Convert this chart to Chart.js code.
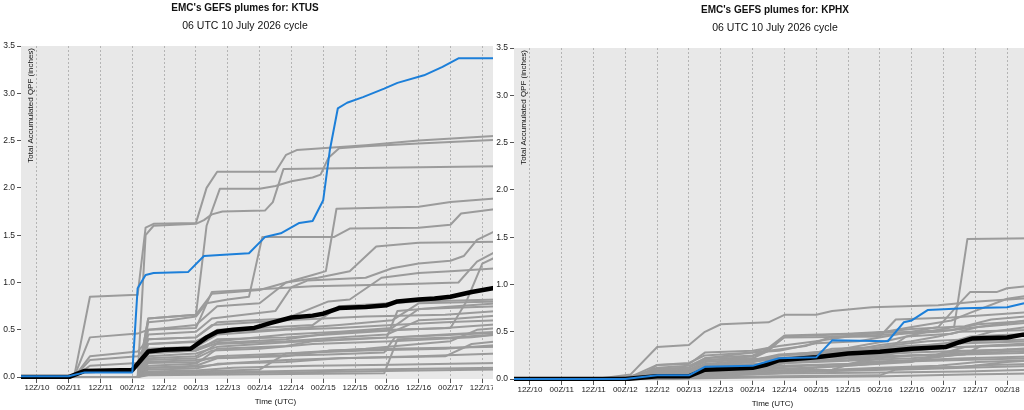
<!DOCTYPE html>
<html>
<head>
<meta charset="utf-8">
<title>EMC's GEFS plumes</title>
<script src="https://cdn.jsdelivr.net/npm/chart.js@4.4.1/dist/chart.umd.min.js"></script>
<style>
  html, body { margin: 0; padding: 0; background: #fff; overflow: hidden; }
  body { width: 1024px; height: 410px; position: relative; }
  .panel { position: absolute; overflow: hidden; }
  #leftPanel { left: 0; top: 0; width: 493px; height: 410px; }
  #rightPanel { left: 493px; top: 2px; width: 531px; height: 408px; }
  canvas { display: block; }
</style>
</head>
<body>
<div class="panel" id="leftPanel"><canvas id="ktusChart" width="530" height="410"></canvas></div>
<div class="panel" id="rightPanel"><canvas id="kphxChart" width="538" height="410"></canvas></div>
<script>
// forecast hour (since 06Z/10) and the labels shown under the dotted lines
const xTickHours = [6, 18, 30, 42, 54, 66, 78, 90, 102, 114, 126, 138, 150, 162, 174, 186];
const xTickLabels = ['12Z/10', '00Z/11', '12Z/11', '00Z/12', '12Z/12', '00Z/13', '12Z/13', '00Z/14',
                     '12Z/14', '00Z/15', '12Z/15', '00Z/16', '12Z/16', '00Z/17', '12Z/17', '00Z/18'];
const yTickValues = [0, 0.5, 1, 1.5, 2, 2.5, 3, 3.5];

// KTUS - [hour, inches] pairs
const ktusControl = [[0,0.01],[18,0.01],[24,0.05],[42,0.05],[44,0.94],[47,1.08],[50,1.10],[63,1.11],[69,1.28],[75,1.29],[86,1.31],[92,1.48],[98,1.52],[105,1.63],[110,1.65],[114,1.87],[116.5,2.40],[119.5,2.84],[123,2.90],[129,2.96],[137,3.05],[142,3.11],[152,3.19],[159,3.28],[165,3.37],[180,3.37]];
const ktusMean = [[0,0],[18,0],[24,0.065],[42,0.075],[48,0.27],[54,0.29],[64,0.30],[70,0.42],[74,0.48],[80,0.50],[88,0.52],[94,0.57],[102,0.63],[110,0.65],[114,0.67],[120,0.73],[130,0.74],[138,0.76],[142,0.80],[150,0.82],[156,0.83],[162,0.85],[170,0.90],[180,0.95]];
const ktusMembers = [
  [[0,0],[20,0],[26,0.85],[44,0.87],[47,1.58],[50,1.62],[66,1.63],[70,2.0],[74,2.17],[96,2.17],[100,2.35],[104,2.40],[130,2.45],[150,2.50],[180,2.55]],
  [[0,0],[44,0],[47,1.50],[50,1.60],[66,1.62],[69,1.66],[72,1.72],[76,1.75],[92,1.76],[95,1.85],[99,2.20],[180,2.23]],
  [[0,0],[44,0],[48,0.62],[66,0.66],[70,1.60],[75,1.99],[90,1.99],[96,2.02],[102,2.07],[110,2.11],[113,2.14],[116,2.32],[120,2.42],[130,2.44],[150,2.47],[180,2.51]],
  [[0,0],[44,0],[48,0.58],[56,0.60],[66,0.64],[70,0.78],[78,0.82],[86,0.85],[91,1.48],[118,1.48],[124,1.57],[150,1.58],[162,1.61],[166,1.73],[180,1.78]],
  [[0,0],[44,0],[48,0.50],[66,0.55],[74,0.75],[90,0.78],[100,1.00],[110,1.08],[115,1.12],[119,1.78],[150,1.80],[162,1.85],[180,1.89]],
  [[0,0],[44,0],[48,0.45],[66,0.48],[72,0.62],[96,0.70],[102,0.95],[108,1.02],[130,1.05],[140,1.15],[150,1.20],[162,1.23],[167,1.28],[172,1.45],[180,1.56]],
  [[0,0],[44,0],[48,0.62],[66,0.66],[72,0.88],[90,0.92],[100,1.00],[112,1.05],[124,1.12],[134,1.38],[150,1.42],[180,1.43]],
  [[0,0],[44,0],[48,0.40],[66,0.42],[74,0.58],[100,0.62],[116,0.80],[124,0.82],[136,1.05],[150,1.10],[162,1.12],[180,1.15]],
  [[0,0],[20,0],[26,0.42],[44,0.46],[48,0.50],[66,0.52],[72,0.90],[90,0.93],[110,0.96],[140,0.98],[165,1.00],[172,1.22],[180,1.34]],
  [[0,0],[20,0],[26,0.22],[44,0.27],[48,0.40],[66,0.42],[72,0.55],[100,0.60],[130,0.64],[160,0.66],[180,0.70]],
  [[0,0],[20,0],[26,0.18],[44,0.22],[48,0.35],[66,0.38],[74,0.48],[96,0.50],[120,0.55],[140,0.60],[150,0.78],[180,0.80]],
  [[0,0],[20,0],[26,0.12],[44,0.15],[48,0.25],[66,0.28],[74,0.40],[100,0.42],[116,0.45],[144,0.50],[160,0.52],[180,0.56]],
  [[0,0],[44,0],[48,0.20],[66,0.22],[74,0.35],[100,0.38],[120,0.42],[138,0.45],[150,0.60],[165,0.62],[180,0.65]],
  [[0,0],[44,0],[48,0.18],[66,0.20],[72,0.28],[90,0.30],[110,0.35],[140,0.38],[170,0.42],[180,0.45]],
  [[0,0],[44,0],[48,0.15],[66,0.16],[74,0.22],[100,0.25],[130,0.30],[150,0.35],[162,0.38],[172,0.50],[180,0.52]],
  [[0,0],[44,0],[48,0.10],[66,0.12],[74,0.20],[100,0.22],[116,0.28],[140,0.30],[180,0.32]],
  [[0,0],[44,0],[48,0.08],[66,0.09],[74,0.14],[100,0.16],[120,0.20],[150,0.22],[180,0.25]],
  [[0,0],[44,0],[48,0.06],[66,0.07],[80,0.10],[110,0.12],[140,0.13],[180,0.15]],
  [[0,0],[44,0],[48,0.04],[66,0.05],[90,0.06],[130,0.08],[180,0.10]],
  [[0,0],[44,0],[48,0.12],[66,0.14],[74,0.30],[100,0.33],[110,0.38],[126,0.40],[140,0.42],[160,0.45],[180,0.48]],
  [[0,0],[44,0],[48,0.22],[66,0.25],[74,0.32],[96,0.36],[120,0.40],[138,0.42],[142,0.70],[160,0.74],[180,0.78]],
  [[0,0],[44,0],[48,0.30],[66,0.32],[74,0.45],[100,0.50],[120,0.52],[140,0.55],[160,0.58],[180,0.60]],
  [[0,0],[44,0],[48,0.05],[66,0.06],[90,0.08],[100,0.25],[130,0.28],[160,0.30],[180,0.34]],
  [[0,0],[44,0],[48,0.16],[66,0.18],[72,0.20],[90,0.22],[116,0.24],[137,0.26],[141,0.42],[165,0.45],[180,0.47]],
  [[0,0],[44,0],[48,0.02],[90,0.03],[137,0.04],[142,0.40],[162,0.42],[180,0.45]],
  [[0,0],[44,0],[48,0.35],[66,0.37],[74,0.50],[90,0.52],[110,0.55],[120,0.75],[150,0.80],[180,0.82]],
  [[0,0],[44,0],[48,0.28],[66,0.30],[74,0.38],[100,0.45],[120,0.48],[140,0.52],[150,0.72],[180,0.75]],
  [[0,0],[44,0],[48,0.10],[66,0.11],[80,0.15],[100,0.18],[120,0.20],[160,0.22],[170,0.35],[180,0.38]],
  [[0,0],[44,0],[48,0.26],[66,0.28],[74,0.36],[100,0.40],[116,0.46],[140,0.50],[162,0.52],[168,0.80],[174,1.20],[180,1.28]],
  [[0,0],[44,0],[48,0.03],[66,0.04],[100,0.05],[150,0.07],[180,0.08]]
];

// KPHX
const kphxControl = [[0,0],[42,0],[54,0.04],[66,0.04],[72,0.13],[90,0.14],[95,0.18],[100,0.22],[114,0.23],[120,0.41],[141,0.40],[147,0.60],[150,0.62],[156,0.73],[170,0.75],[186,0.76],[192,0.80],[196,0.82]];
const kphxMean = [[0,0],[42,0],[54,0.03],[66,0.03],[72,0.10],[90,0.12],[95,0.15],[100,0.20],[114,0.23],[126,0.27],[138,0.29],[150,0.32],[163,0.34],[168,0.39],[173,0.43],[186,0.44],[192,0.47],[196,0.48]];
const kphxMembers = [
  [[0,0],[42,0],[54,0.02],[66,0.05],[72,0.12],[90,0.20],[100,0.25],[120,0.30],[140,0.40],[156,0.50],[166,0.55],[171,1.48],[196,1.49]],
  [[0,0],[30,0],[36,0.02],[44,0.05],[54,0.34],[66,0.36],[72,0.50],[78,0.58],[96,0.60],[102,0.68],[114,0.68],[120,0.72],[135,0.76],[160,0.78],[175,0.82],[196,0.86]],
  [[0,0],[42,0],[48,0.03],[54,0.15],[66,0.17],[72,0.25],[90,0.28],[100,0.30],[114,0.38],[130,0.40],[140,0.45],[150,0.50],[160,0.55],[168,0.80],[172,0.92],[182,0.92],[186,0.96],[196,0.99]],
  [[0,0],[42,0],[54,0.15],[66,0.16],[72,0.28],[90,0.30],[100,0.35],[114,0.40],[126,0.45],[140,0.50],[150,0.55],[165,0.62],[172,0.70],[186,0.85],[196,0.89]],
  [[0,0],[36,0],[48,0.05],[66,0.08],[72,0.20],[90,0.22],[96,0.30],[110,0.35],[120,0.45],[140,0.47],[160,0.50],[175,0.55],[196,0.60]],
  [[0,0],[42,0],[54,0.02],[66,0.04],[72,0.15],[90,0.18],[100,0.25],[120,0.28],[140,0.30],[148,0.45],[165,0.48],[175,0.55],[196,0.63]],
  [[0,0],[42,0],[48,0.04],[66,0.06],[72,0.12],[90,0.15],[100,0.20],[114,0.25],[130,0.28],[140,0.35],[156,0.40],[170,0.42],[180,0.50],[196,0.56]],
  [[0,0],[42,0],[54,0.01],[66,0.02],[72,0.08],[90,0.10],[110,0.12],[130,0.15],[150,0.20],[165,0.25],[176,0.30],[196,0.32]],
  [[0,0],[60,0],[72,0.03],[90,0.05],[114,0.08],[140,0.10],[160,0.12],[180,0.15],[196,0.16]],
  [[0,0],[48,0],[66,0.02],[72,0.05],[100,0.08],[120,0.10],[130,0.18],[150,0.20],[170,0.22],[196,0.24]],
  [[0,0],[42,0],[54,0.03],[66,0.05],[72,0.10],[96,0.12],[102,0.18],[126,0.20],[140,0.24],[150,0.35],[170,0.38],[196,0.40]],
  [[0,0],[36,0],[42,0.02],[54,0.08],[66,0.10],[72,0.18],[96,0.22],[114,0.24],[120,0.30],[140,0.32],[160,0.35],[172,0.45],[196,0.48]],
  [[0,0],[42,0],[54,0.06],[66,0.08],[72,0.14],[90,0.16],[114,0.18],[130,0.20],[150,0.22],[170,0.26],[196,0.28]],
  [[0,0],[42,0],[54,0.10],[66,0.12],[72,0.20],[90,0.24],[96,0.30],[102,0.45],[130,0.48],[150,0.50],[165,0.52],[175,0.58],[196,0.62]],
  [[0,0],[48,0],[66,0.01],[72,0.04],[100,0.06],[140,0.07],[170,0.08],[196,0.10]],
  [[0,0],[42,0],[60,0.02],[72,0.06],[96,0.08],[114,0.12],[130,0.15],[150,0.18],[162,0.28],[180,0.30],[196,0.33]],
  [[0,0],[42,0],[54,0.05],[66,0.06],[72,0.10],[100,0.14],[126,0.16],[138,0.22],[150,0.25],[170,0.26],[176,0.35],[196,0.38]],
  [[0,0],[42,0],[54,0.12],[66,0.14],[72,0.22],[90,0.25],[96,0.32],[102,0.44],[138,0.45],[144,0.63],[165,0.65],[180,0.68],[196,0.71]],
  [[0,0],[48,0],[72,0.02],[100,0.03],[138,0.04],[144,0.10],[170,0.12],[196,0.14]],
  [[0,0],[42,0],[54,0.04],[66,0.05],[72,0.09],[90,0.11],[110,0.14],[126,0.16],[140,0.18],[165,0.20],[196,0.22]],
  [[0,0],[42,0],[54,0.02],[66,0.03],[72,0.07],[96,0.09],[120,0.10],[138,0.12],[160,0.14],[175,0.18],[196,0.20]],
  [[0,0],[44,0],[54,0.07],[66,0.08],[72,0.16],[90,0.20],[100,0.26],[114,0.28],[120,0.32],[140,0.34],[156,0.36],[170,0.40],[196,0.42]],
  [[0,0],[42,0],[54,0.09],[66,0.10],[72,0.15],[90,0.18],[100,0.22],[126,0.24],[140,0.26],[150,0.30],[166,0.34],[196,0.36]],
  [[0,0],[42,0],[48,0.03],[60,0.05],[72,0.12],[84,0.20],[100,0.22],[114,0.26],[126,0.30],[138,0.36],[150,0.40],[160,0.45],[168,0.50],[196,0.52]],
  [[0,0],[48,0],[72,0.01],[100,0.02],[140,0.03],[170,0.05],[196,0.06]],
  [[0,0],[42,0],[54,0.05],[66,0.07],[72,0.12],[90,0.13],[102,0.17],[114,0.19],[126,0.22],[150,0.25],[170,0.27],[196,0.30]],
  [[0,0],[42,0],[54,0.11],[66,0.12],[72,0.22],[90,0.28],[96,0.33],[102,0.46],[126,0.48],[140,0.50],[150,0.53],[170,0.56],[180,0.63],[196,0.67]],
  [[0,0],[54,0],[66,0.01],[72,0.04],[96,0.07],[114,0.09],[140,0.11],[170,0.13],[186,0.18],[196,0.20]],
  [[0,0],[42,0],[54,0.04],[66,0.06],[72,0.11],[90,0.14],[100,0.16],[114,0.22],[126,0.24],[150,0.28],[170,0.30],[196,0.32]],
  [[0,0],[42,0],[54,0.06],[66,0.07],[72,0.13],[96,0.16],[114,0.20],[138,0.24],[160,0.26],[170,0.34],[196,0.37]]
];

const FONT = '"Liberation Sans", Arial, sans-serif';
Chart.defaults.font.family = FONT;

function pts(pairs) {
    return pairs.map(p => ({x: p[0], y: p[1]}));
}

// grey plot background plus the titles that sit where Chart.js won't put them
const plumeText = {
    id: 'plumeText',
    beforeDraw(chart) {
        const {ctx, chartArea: a} = chart;
        ctx.save();
        ctx.fillStyle = '#e8e8e8';
        ctx.fillRect(a.left, a.top, a.right - a.left, a.bottom - a.top);
        ctx.restore();
    },
    afterDraw(chart, args, o) {
        const {ctx, chartArea: a} = chart;
        ctx.save();
        ctx.fillStyle = '#111';
        ctx.textAlign = 'center';
        ctx.textBaseline = 'middle';
        ctx.font = 'bold 10px ' + FONT;
        ctx.fillText(o.title, o.titleX, 8);
        ctx.font = '10.5px ' + FONT;
        ctx.fillText(o.subtitle, o.titleX, 26);
        ctx.font = '8px ' + FONT;
        ctx.fillText('Time (UTC)', (a.left + a.right) / 2, 402);
        ctx.translate(a.left + 10, a.top + 2);
        ctx.rotate(-Math.PI / 2);
        ctx.textAlign = 'right';
        ctx.fillText('Total Accumulated QPF (inches)', 0, 0);
        ctx.restore();
    }
};

function makeChart(id, station, xMax, titleX, mean, control, members) {
    const datasets = [
        {label: 'Control', data: pts(control), borderColor: '#1c7fd9', borderWidth: 2, order: 0},
        {label: 'Mean', data: pts(mean), borderColor: '#000', borderWidth: 4.5, order: 1}
    ];
    members.forEach((m, i) => {
        datasets.push({label: 'Member ' + (i + 1), data: pts(m), borderColor: '#9b9b9b', borderWidth: 2, order: 2});
    });

    return new Chart(document.getElementById(id), {
        type: 'line',
        data: {datasets: datasets},
        plugins: [plumeText],
        options: {
            responsive: false,
            animation: false,
            layout: {padding: {top: 46, left: 0, right: 0, bottom: 0}},
            elements: {
                line: {tension: 0, borderJoinStyle: 'round', borderCapStyle: 'round'},
                point: {radius: 0, hoverRadius: 0}
            },
            plugins: {
                legend: {display: false},
                tooltip: {enabled: false},
                plumeText: {
                    title: "EMC's GEFS plumes for: " + station,
                    subtitle: '06 UTC 10 July 2026 cycle',
                    titleX: titleX
                }
            },
            scales: {
                x: {
                    type: 'linear',
                    min: 0,
                    max: xMax,
                    afterBuildTicks: s => { s.ticks = xTickHours.filter(h => h <= xMax).map(h => ({value: h})); },
                    afterFit: s => { s.height = 31; },
                    ticks: {
                        autoSkip: false, maxRotation: 0, padding: 0, color: '#222',
                        font: {size: 8},
                        callback: v => xTickLabels[xTickHours.indexOf(v)]
                    },
                    grid: {color: '#b4b4b4', tickColor: '#555', tickLength: 4, lineWidth: 1},
                    border: {display: false, dash: [2, 2]}
                },
                y: {
                    min: -0.02,
                    max: 3.5,
                    afterBuildTicks: s => { s.ticks = yTickValues.map(v => ({value: v})); },
                    afterFit: s => { s.width = 21; },
                    ticks: {padding: 2, color: '#222', font: {size: 8.5}, callback: v => v.toFixed(1)},
                    grid: {drawOnChartArea: false, color: '#555', tickLength: 4},
                    border: {display: false}
                }
            }
        }
    });
}

makeChart('ktusChart', 'KTUS', 192, 245, ktusMean, ktusControl, ktusMembers);
makeChart('kphxChart', 'KPHX', 195, 282, kphxMean, kphxControl, kphxMembers);
</script>
</body>
</html>
